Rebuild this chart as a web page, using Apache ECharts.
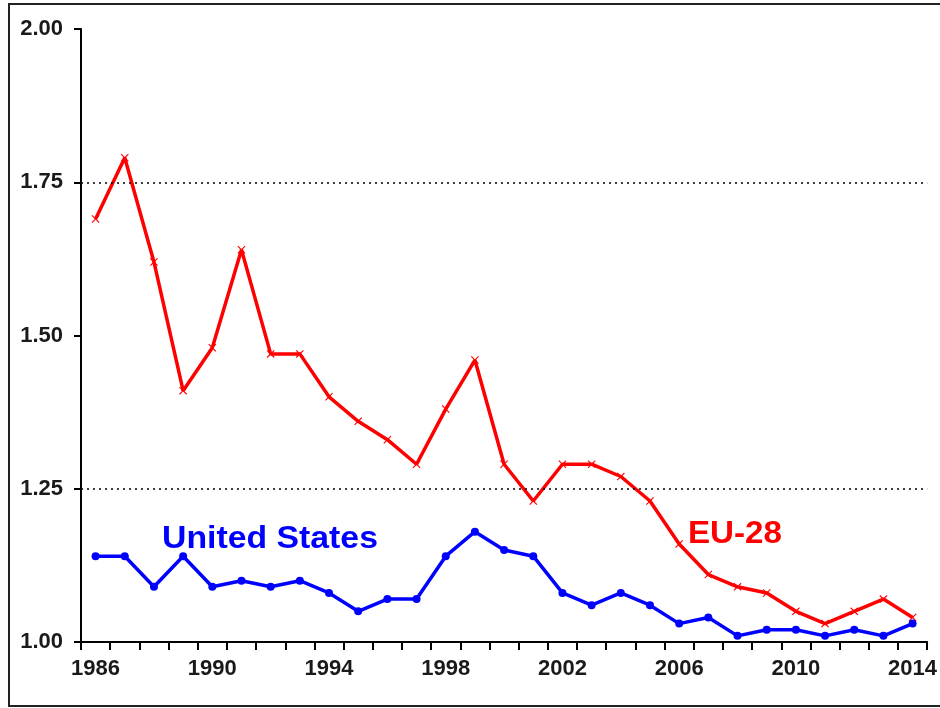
<!DOCTYPE html>
<html>
<head>
<meta charset="utf-8">
<script src="https://cdn.jsdelivr.net/npm/echarts@6/dist/echarts.min.js"></script>
<style>
  html, body { margin: 0; padding: 0; background: #fff; }
  #chart { width: 940px; height: 708px; }
</style>
</head>
<body>
<div id="chart"></div>
<script>
// years on the x axis
const years = [
  '1986', '1987', '1988', '1989', '1990', '1991', '1992', '1993', '1994', '1995',
  '1996', '1997', '1998', '1999', '2000', '2001', '2002', '2003', '2004', '2005',
  '2006', '2007', '2008', '2009', '2010', '2011', '2012', '2013', '2014'
]
// EU-28 (red)
const eu28 = [
  1.69, 1.79, 1.62, 1.41, 1.48, 1.64, 1.47, 1.47, 1.40, 1.36,
  1.33, 1.29, 1.38, 1.46, 1.29, 1.23, 1.29, 1.29, 1.27, 1.23,
  1.16, 1.11, 1.09, 1.08, 1.05, 1.03, 1.05, 1.07, 1.04
]
// United States (blue)
const us = [
  1.14, 1.14, 1.09, 1.14, 1.09, 1.10, 1.09, 1.10, 1.08, 1.05,
  1.07, 1.07, 1.14, 1.18, 1.15, 1.14, 1.08, 1.06, 1.08, 1.06,
  1.03, 1.04, 1.01, 1.02, 1.02, 1.01, 1.02, 1.01, 1.03
]
// dotted reference lines
const refLines = [1.25, 1.75]

const FONT = 'Liberation Sans'
const crossPath = 'path://M1,0L5,4L9,0L10,1L6,5L10,9L9,10L5,6L1,10L0,9L4,5L0,1Z'

const chart = echarts.init(document.getElementById('chart'))
const option = {
  animation: false,
  backgroundColor: '#fff',
  grid: { left: 81, top: 29, right: 9, bottom: 66 },
  xAxis: {
    type: 'category',
    data: years,
    boundaryGap: true,
    axisLine: { lineStyle: { color: '#000', width: 2 } },
    axisTick: {
      show: true,
      interval: 0,
      length: 8,
      lineStyle: { color: '#000', width: 2 }
    },
    axisLabel: {
      interval: 3,
      margin: 16,
      color: '#1a1a1a',
      fontFamily: FONT,
      fontWeight: 'bold',
      fontSize: 22
    },
    splitLine: { show: false }
  },
  yAxis: {
    type: 'value',
    min: 1,
    max: 2,
    interval: 0.25,
    axisLine: { show: true, lineStyle: { color: '#000', width: 2 } },
    axisTick: { show: true, length: 7, lineStyle: { color: '#000', width: 2 } },
    axisLabel: {
      margin: 18,
      color: '#1a1a1a',
      fontFamily: FONT,
      fontWeight: 'bold',
      fontSize: 22,
      formatter: v => v.toFixed(2)
    },
    splitLine: { show: false }
  },
  series: [
    {
      name: 'EU-28',
      type: 'line',
      data: eu28,
      symbol: crossPath,
      symbolSize: 8,
      showAllSymbol: true,
      lineStyle: { color: '#ff0000', width: 3.5 },
      itemStyle: { color: '#ff0000' },
      z: 3,
      markLine: {
        silent: true,
        symbol: 'none',
        label: { show: false },
        lineStyle: { color: '#000', type: [2, 4], width: 1.5 },
        data: refLines.map(v => ({ yAxis: v }))
      }
    },
    {
      name: 'United States',
      type: 'line',
      data: us,
      symbol: 'circle',
      symbolSize: 8,
      showAllSymbol: true,
      lineStyle: { color: '#0000ff', width: 3.5 },
      itemStyle: { color: '#0000ff' },
      z: 4
    }
  ],
  graphic: [
    {
      type: 'rect',
      shape: { x: 9, y: 4, width: 960, height: 702 },
      style: { fill: null, stroke: '#222', lineWidth: 2 },
      silent: true
    },
    {
      type: 'text',
      x: 162,
      y: 524,
      scaleX: 1.09,
      style: {
        text: 'United States',
        fill: '#0000ff',
        font: 'bold 31px "Liberation Sans"'
      }
    },
    {
      type: 'text',
      x: 688,
      y: 519,
      scaleX: 1.07,
      style: {
        text: 'EU-28',
        fill: '#ff0000',
        font: 'bold 31px "Liberation Sans"'
      }
    }
  ]
}
chart.setOption(option)
</script>
</body>
</html>
